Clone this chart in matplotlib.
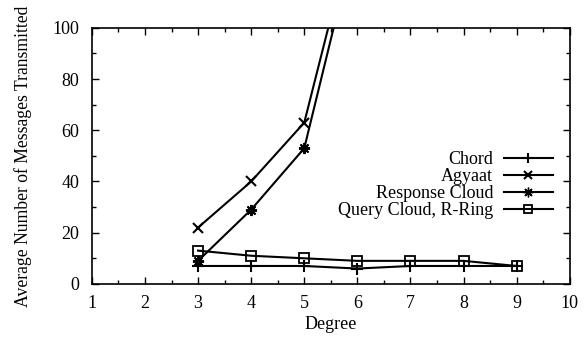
import matplotlib
matplotlib.use("Agg")
import matplotlib.pyplot as plt
from matplotlib.lines import Line2D
from matplotlib.ticker import MultipleLocator

plt.rcParams["font.family"] = ["Liberation Serif", "DejaVu Serif"]

# Data
degree = [3, 4, 5, 6, 7, 8, 9]
chord = [7, 7, 7, 6, 7, 7, 7]
query_cloud = [13, 11, 10, 9, 9, 9, 7]
agyaat_x = [3, 4, 5, 6]
agyaat = [22, 40, 63, 145]
response_x = [3, 4, 5, 6]
response = [9, 29, 53, 138]
labels = ["Chord", "Agyaat", "Response Cloud", "Query Cloud, R-Ring"]

fig = plt.figure(figsize=(5.85, 3.4), dpi=100)
ax = fig.add_axes([0.157, 0.165, 0.817, 0.753])

lw = 1.5
markers = ["+", "x", (8, 2, 0), "s"]
fills = ["black", "black", "black", "none"]
sizes = [9, 7, 8, 7]
widths = [1.5, 1.5, 1.4, 1.3]
legend_sizes = [7, 5.5, 7, 5.5]
legend_widths = [1.5, 1.5, 1.0, 1.3]

ax.plot(degree, chord, color="black", lw=lw, marker=markers[0], ms=sizes[0], mew=widths[0])
ax.plot(agyaat_x, agyaat, color="black", lw=lw, marker=markers[1], ms=sizes[1], mew=widths[1])
ax.plot(response_x, response, color="black", lw=lw, marker=markers[2], ms=sizes[2], mew=widths[2])
ax.plot(degree, query_cloud, color="black", lw=lw, marker=markers[3], ms=sizes[3], mew=widths[3],
        mfc="none")

ax.set_xlim(1, 10)
ax.set_ylim(0, 100)
ax.xaxis.set_major_locator(MultipleLocator(1))
ax.xaxis.set_minor_locator(MultipleLocator(0.5))
ax.yaxis.set_major_locator(MultipleLocator(20))
ax.yaxis.set_minor_locator(MultipleLocator(10))
ax.tick_params(which="both", direction="in", top=True, right=True, labelsize=13, width=1)
ax.tick_params(which="major", length=5)
ax.tick_params(which="minor", length=3)
ax.tick_params(axis="x", which="major", pad=8)
ax.tick_params(axis="y", which="major", pad=9)
for s in ax.spines.values():
    s.set_linewidth(1.2)

ax.set_xlabel("Degree", fontsize=13, labelpad=3)
ax.set_ylabel("Average Number of Messages Transmitted", fontsize=12.7, labelpad=15)

handles = [Line2D([], [], color="black", lw=lw, marker=markers[i], ms=legend_sizes[i],
                  mew=legend_widths[i], mfc=fills[i]) for i in range(4)]
ax.legend(handles, labels, loc="upper right", bbox_to_anchor=(0.983, 0.555), frameon=False,
          markerfirst=False, fontsize=13, handlelength=2.7, labelspacing=0.0, borderpad=0,
          handletextpad=0.6)

fig.savefig("out.png", dpi=100)
